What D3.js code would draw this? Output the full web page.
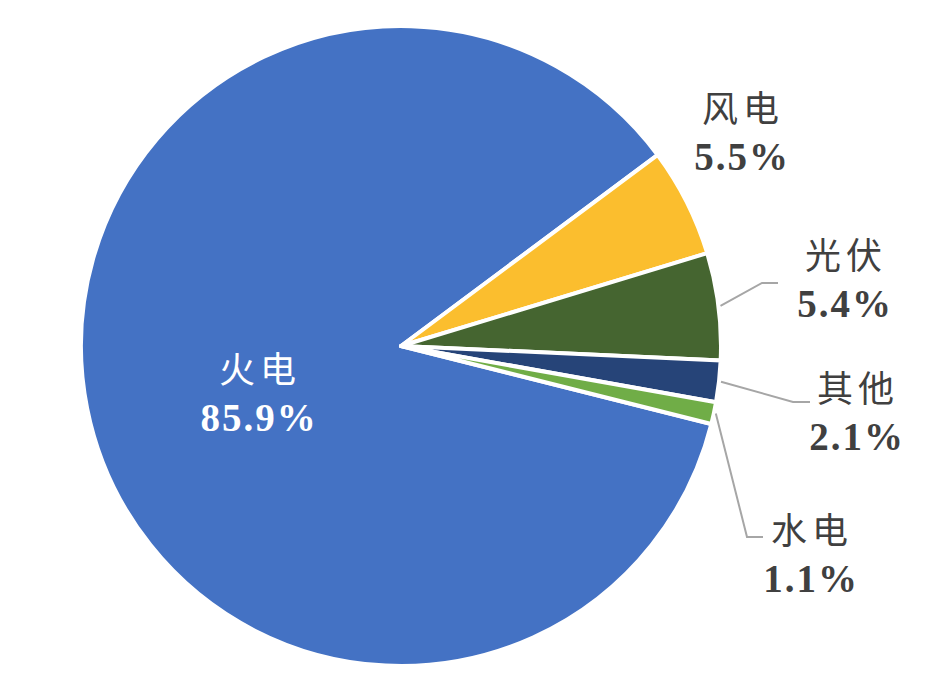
<!DOCTYPE html>
<html>
<head>
<meta charset="utf-8">
<script src="https://cdn.jsdelivr.net/npm/d3@7"></script>
<style>
  body { margin: 0; background: #fff; }
  .name { font-family: "Noto Sans CJK SC", sans-serif; }
  .pct { font-family: "Times New Roman", "Liberation Serif", Times, serif; }
</style>
</head>
<body>
<svg id="chart" width="946" height="696"></svg>
<script>
// chart data
const categories = ["火电", "风电", "光伏", "其他", "水电"];
const shares = [85.9, 5.5, 5.4, 2.1, 1.1];
const labels = ["85.9%", "5.5%", "5.4%", "2.1%", "1.1%"];
const colors = ["#4472C4", "#FBBE2E", "#456530", "#264478", "#70AD47"];

const svg = d3.select("#chart");
const cx = 401, cy = 346, radius = 320;

// layout: label anchor for each slice (name line baseline) + leader elbow
const labelPos = [
  { x: 258, y: 383, fill: "#fff" },
  { x: 741, y: 122, fill: "#404040" },
  { x: 844, y: 269, fill: "#404040", elbow: [762, 283], end: [778, 283] },
  { x: 856, y: 402, fill: "#404040", elbow: [793, 402], end: [810, 402] },
  { x: 810, y: 544, fill: "#404040", elbow: [747, 537], end: [763, 537] }
];

const data = categories.map((c, i) => ({ name: c, value: shares[i], label: labels[i], color: colors[i], pos: labelPos[i] }));

const start = -255.9 * Math.PI / 180;
const pie = d3.pie().sort(null).value(d => d.value)
  .startAngle(start).endAngle(start + 2 * Math.PI);

const arc = d3.arc().innerRadius(0).outerRadius(radius);
const edgeArc = d3.arc().innerRadius(radius + 2).outerRadius(radius + 2);

const g = svg.append("g").attr("transform", `translate(${cx},${cy})`);

const arcs = pie(data);

g.selectAll(".slice")
  .data(arcs)
  .enter().append("path")
  .attr("class", "slice")
  .attr("d", arc)
  .attr("fill", d => d.data.color)
  .attr("stroke", "#fff")
  .attr("stroke-width", 4)
  .attr("stroke-linejoin", "round");

// leader lines
svg.selectAll(".leader")
  .data(arcs.filter(d => d.data.pos.elbow))
  .enter().append("polyline")
  .attr("class", "leader")
  .attr("points", d => {
    const c = edgeArc.centroid(d);
    const p = d.data.pos;
    return [[cx + c[0], cy + c[1]], p.elbow, p.end].map(q => q.join(",")).join(" ");
  })
  .attr("fill", "none")
  .attr("stroke", "#A6A6A6")
  .attr("stroke-width", 2);

// labels
const lab = svg.selectAll(".lab")
  .data(data)
  .enter().append("g")
  .attr("class", "lab");

lab.append("text")
  .attr("class", "name")
  .attr("x", d => d.pos.x + 2)
  .attr("y", d => d.pos.y)
  .attr("text-anchor", "middle")
  .attr("font-size", 36)
  .attr("letter-spacing", 5)
  .attr("fill", d => d.pos.fill)
  .text(d => d.name);

lab.append("text")
  .attr("class", "pct")
  .attr("x", d => d.pos.x + 1)
  .attr("y", d => d.pos.y + 48)
  .attr("text-anchor", "middle")
  .attr("font-size", 39)
  .attr("font-weight", "bold")
  .attr("letter-spacing", 2)
  .attr("fill", d => d.pos.fill)
  .text(d => d.label);
</script>
</body>
</html>
